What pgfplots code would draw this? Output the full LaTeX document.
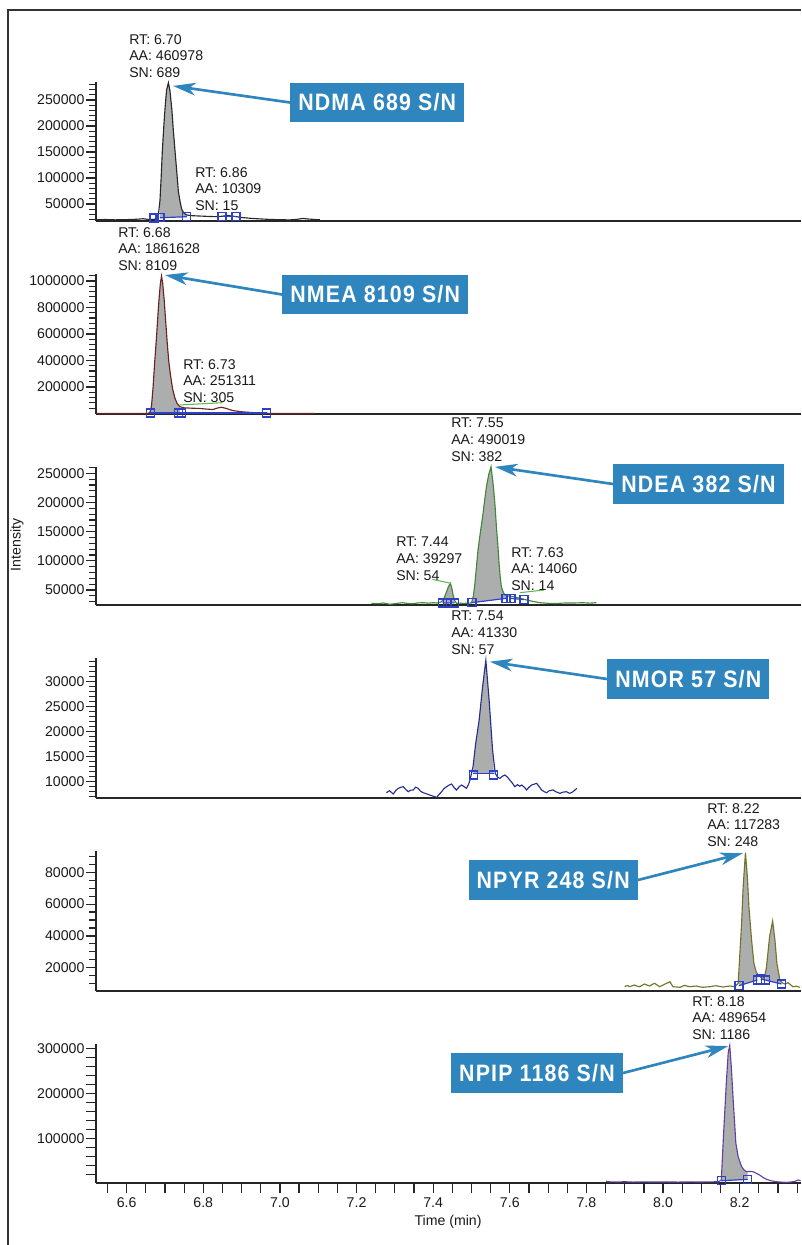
\documentclass[border=0pt]{standalone}
\usepackage{fontspec}
\setmainfont{Liberation Sans}
\newfontfamily\boxfont[FakeStretch=0.90,LetterSpace=5.0]{Liberation Sans}
\usepackage{pgfplots}
\pgfplotsset{compat=1.18}
\usetikzlibrary{arrows.meta}

\definecolor{boxblue}{RGB}{47,134,190}
\definecolor{pkfill}{RGB}{172,174,174}
\definecolor{intblue}{RGB}{45,65,200}
\definecolor{noisegreen}{RGB}{95,185,80}
\definecolor{trNDMA}{RGB}{40,40,40}
\definecolor{trNMEA}{RGB}{105,35,35}
\definecolor{trNDEA}{RGB}{65,135,55}
\definecolor{trNMOR}{RGB}{40,45,145}
\definecolor{trNPYR}{RGB}{115,115,45}
\definecolor{trNPIP}{RGB}{95,65,165}

\newcommand\lblfont{\fontsize{10.6}{12.5}\selectfont}
\newcommand\tickfont{\fontsize{10.6}{12}\selectfont}

\pgfplotsset{
  chrom/.style={
    anchor=south west, scale only axis, width=528.75pt,
    xmin=6.52, xmax=8.36,
    axis lines*=left,
    axis line style={line width=1.4pt, black!85},
    tick style={line width=0.9pt, black!85},
    tick align=outside,
    major tick length=7.5pt, minor tick length=5pt,
    xtick=\empty,
    scaled y ticks=false,
    yticklabel style={font=\tickfont, text=black!90, inner sep=1pt},
    /pgf/number format/fixed,
    /pgf/number format/1000 sep={},
    /pgf/number format/assume math mode=true,
    clip=false,
  },
  trace/.style={line width=0.85pt},
  peakfill/.style={draw=none, fill=pkfill},
  intline/.style={intblue, line width=0.9pt},
  intmarks/.style={scatter, only marks, point meta=0, mark=square, mark size=3pt,
    scatter/use mapped color={draw=intblue, fill=none},
    mark options={line width=1pt, solid}},
}

\begin{document}
\begin{tikzpicture}
\useasboundingbox (0pt,0pt) rectangle (600.75pt,-933.75pt);
\draw[line width=1.4pt, black!80] (6pt,-933.75pt) -- (6pt,-7.5pt) -- (600.75pt,-7.5pt);

% ---------------- NDMA ----------------
\begin{axis}[chrom, at={(72pt,-165.5pt)}, height=104.25pt,
  ymin=17900, ymax=285200,
  ytick={50000,100000,150000,200000,250000},
  minor ytick={20000,30000,...,280000}]
\addplot[peakfill] coordinates {(6.687,23500) (6.687,57000) (6.690,100000) (6.693,150000) (6.697,200000) (6.700,232000) (6.704,268000) (6.709,283000) (6.713,268000) (6.718,231000) (6.722,190000) (6.726,154000) (6.731,110000) (6.735,74000) (6.740,52000) (6.744,39000) (6.750,32000) (6.757,28800) (6.757,25500)};
\addplot[trace, trNDMA] coordinates {
(6.520,19600) (6.545,20100) (6.570,19500) (6.600,19900) (6.625,20600) (6.643,21600) (6.655,20400) (6.666,20100) (6.676,21000) (6.682,23500) (6.687,57000) (6.690,100000) (6.693,150000) (6.697,200000) (6.700,232000) (6.704,268000) (6.709,283000) (6.713,268000) (6.718,231000) (6.722,190000) (6.726,154000) (6.731,110000) (6.735,74000) (6.740,52000) (6.744,39000) (6.750,32000) (6.757,28800) (6.770,27500) (6.791,26800) (6.815,26000) (6.835,25600) (6.850,26500) (6.862,27800) (6.877,26700) (6.900,24000) (6.922,22500) (6.945,21400) (6.965,20600) (6.995,19800) (7.026,19400) (7.045,20500) (7.060,22200) (7.075,21000) (7.104,19600)};
\addplot[intline] coordinates {(6.687,23500) (6.757,25500)};
\addplot[intline] coordinates {(6.849,26500) (6.885,26500)};
\addplot[intmarks] coordinates {(6.671,23000) (6.687,23500) (6.757,25500) (6.849,26500) (6.885,26500)};
\coordinate (tip1) at (axis cs:6.721,277000);
\end{axis}

% ---------------- NMEA ----------------
\begin{axis}[chrom, at={(72pt,-310.5pt)}, height=105pt,
  ymin=-3800, ymax=1052800,
  ytick={200000,400000,600000,800000,1000000},
  minor ytick={40000,80000,...,1040000}]
\addplot[peakfill] coordinates {(6.662,3800) (6.662,8000) (6.665,60000) (6.669,200000) (6.673,380000) (6.678,580000) (6.682,760000) (6.685,881000) (6.688,980000) (6.691,1037000) (6.694,985000) (6.698,856000) (6.702,690000) (6.706,530000) (6.710,390000) (6.715,278000) (6.720,185000) (6.726,115000) (6.732,75000) (6.739,51000) (6.739,3800)};
\addplot[trace, trNMEA] coordinates {
(6.520,0) (6.560,300) (6.600,-200) (6.640,200) (6.655,500) (6.661,8000) (6.665,60000) (6.669,200000) (6.673,380000) (6.678,580000) (6.682,760000) (6.685,881000) (6.688,980000) (6.691,1037000) (6.694,985000) (6.698,856000) (6.702,690000) (6.706,530000) (6.710,390000) (6.715,278000) (6.720,185000) (6.726,115000) (6.732,75000) (6.739,51000) (6.750,43000) (6.770,40000) (6.791,38000) (6.810,33000) (6.825,30000) (6.838,42000) (6.848,47000) (6.860,38000) (6.877,22000) (6.900,13000) (6.930,6500) (6.965,1500) (7.000,300) (7.050,0) (7.091,200)};
\addplot[noisegreen, line width=0.8pt] coordinates {(6.739,64500) (6.850,81500)};
\addplot[intline] coordinates {(6.662,3500) (6.965,3500)};
\addplot[intmarks] coordinates {(6.662,4000) (6.736,4000) (6.744,4000) (6.965,4000)};
\coordinate (tip2) at (axis cs:6.700,1045000);
\end{axis}

% ---------------- NDEA ----------------
\begin{axis}[chrom, at={(72pt,-453.75pt)}, height=103.5pt,
  ymin=24300, ymax=260800,
  ytick={50000,100000,150000,200000,250000},
  minor ytick={30000,40000,...,260000}]
\addplot[peakfill] coordinates {(7.422,27800) (7.422,30000) (7.429,37000) (7.435,47100) (7.440,56000) (7.445,61500) (7.449,52000) (7.452,41400) (7.456,32000) (7.456,28000)};
\addplot[peakfill] coordinates {(7.500,28300) (7.505,40000) (7.509,61500) (7.517,118500) (7.523,148000) (7.529,175500) (7.534,202000) (7.539,226900) (7.545,248000) (7.551,261100) (7.555,240000) (7.558,221200) (7.562,190000) (7.565,158400) (7.569,125000) (7.572,95700) (7.575,72000) (7.578,55600) (7.583,46000) (7.587,41400) (7.590,41000) (7.590,35700)};
\addplot[trace, trNDEA] coordinates {
(7.239,27200) (7.255,26500) (7.270,27800) (7.287,25500) (7.305,27000) (7.320,28200) (7.331,27200) (7.345,26300) (7.360,27800) (7.374,28300) (7.388,27500) (7.400,28300) (7.412,27600) (7.422,30000) (7.429,37000) (7.435,47100) (7.440,56000) (7.445,61500) (7.449,52000) (7.452,41400) (7.456,32000) (7.461,27200) (7.470,27500) (7.478,27000) (7.490,27500) (7.500,27700) (7.505,40000) (7.509,61500) (7.517,118500) (7.523,148000) (7.529,175500) (7.534,202000) (7.539,226900) (7.545,248000) (7.551,261100) (7.555,240000) (7.558,221200) (7.562,190000) (7.565,158400) (7.569,125000) (7.572,95700) (7.575,72000) (7.578,55600) (7.583,46000) (7.587,41400) (7.598,39500) (7.609,38500) (7.625,36000) (7.644,32900) (7.660,30500) (7.678,28300) (7.700,27200) (7.722,26900) (7.745,27800) (7.765,27700) (7.790,28200) (7.810,27500) (7.826,28300)};
\addplot[noisegreen, line width=0.8pt] coordinates {(7.398,68200) (7.446,61500)};
\addplot[noisegreen, line width=0.8pt] coordinates {(7.626,45400) (7.689,50000)};
\addplot[intline] coordinates {(7.425,27800) (7.456,28000)};
\addplot[intline] coordinates {(7.501,28300) (7.590,35700)};
\addplot[intline] coordinates {(7.603,35700) (7.637,33500)};
\addplot[intmarks] coordinates {(7.425,27800) (7.438,27800) (7.456,28000) (7.501,28300) (7.590,35700) (7.603,35700) (7.637,33500)};
\coordinate (tip3) at (axis cs:7.561,261000);
\end{axis}

% ---------------- NMOR ----------------
\begin{axis}[chrom, at={(72pt,-598.5pt)}, height=105pt,
  ymin=6740, ymax=34740,
  ytick={10000,15000,20000,25000,30000},
  minor ytick={7000,8000,...,34000}]
\addplot[peakfill] coordinates {(7.505,11600) (7.505,13200) (7.511,17680) (7.520,22340) (7.529,29000) (7.5375,34300) (7.546,26340) (7.555,16340) (7.558,13500) (7.558,11600)};
\addplot[trace, trNMOR] coordinates {
(7.278,7800) (7.286,8200) (7.296,7540) (7.303,8300) (7.309,8670) (7.316,8900) (7.322,9000) (7.328,8500) (7.335,8000) (7.341,8300) (7.348,8340) (7.354,8900) (7.361,8670) (7.367,8100) (7.374,7800) (7.382,7600) (7.391,7340) (7.400,7100) (7.409,6870) (7.415,7400) (7.422,8000) (7.428,8600) (7.435,9000) (7.441,9300) (7.448,9540) (7.455,8800) (7.461,8340) (7.468,9000) (7.474,9340) (7.481,9000) (7.487,8670) (7.493,9600) (7.496,10340) (7.504,13000) (7.511,17680) (7.520,22340) (7.529,29000) (7.5375,34300) (7.546,26340) (7.555,16340) (7.562,11680) (7.568,10900) (7.574,10680) (7.581,11100) (7.587,11340) (7.594,10900) (7.600,10340) (7.607,9700) (7.613,9000) (7.620,9400) (7.626,9100) (7.631,9340) (7.638,8900) (7.644,8340) (7.650,8900) (7.657,9340) (7.663,9500) (7.670,9680) (7.676,9100) (7.683,8340) (7.690,8000) (7.696,7800) (7.703,8200) (7.713,8340) (7.720,8000) (7.731,7670) (7.738,7900) (7.748,8000) (7.755,7700) (7.761,7800) (7.768,8200) (7.775,8670)};
\addplot[intline] coordinates {(7.505,11600) (7.558,11600)};
\addplot[intmarks] coordinates {(7.505,11340) (7.558,11340)};
\coordinate (tip4) at (axis cs:7.548,34000);
\end{axis}

% ---------------- NPYR ----------------
\begin{axis}[chrom, at={(72pt,-743.25pt)}, height=105pt,
  ymin=5350, ymax=93400,
  ytick={20000,40000,60000,80000},
  minor ytick={10000,15000,...,90000}]
\addplot[peakfill] coordinates {(8.198,8680) (8.198,14000) (8.200,26900) (8.205,47900) (8.209,70900) (8.215,92300) (8.220,77200) (8.224,58400) (8.231,37400) (8.237,22800) (8.243,17500) (8.246,16000) (8.246,12260)};
\addplot[peakfill] coordinates {(8.267,12260) (8.267,16500) (8.270,20600) (8.278,39500) (8.286,49400) (8.292,37400) (8.297,22800) (8.305,12300) (8.309,11200) (8.309,9750)};
\addplot[trace, trNPYR] coordinates {
(7.900,8050) (7.903,8490) (7.908,8800) (7.913,8050) (7.919,8600) (7.926,9120) (7.932,8400) (7.939,8050) (7.945,8900) (7.952,9750) (7.958,9100) (7.965,8490) (7.971,9400) (7.978,10190) (7.984,9200) (7.991,8050) (7.998,8900) (8.005,9750) (8.011,10400) (8.018,11200) (8.022,9500) (8.026,8050) (8.035,7900) (8.044,7670) (8.050,8300) (8.057,8930) (8.063,8400) (8.070,8050) (8.078,8300) (8.087,8490) (8.095,8000) (8.104,7670) (8.113,7900) (8.122,8050) (8.130,8400) (8.139,8680) (8.148,8200) (8.157,7860) (8.165,8200) (8.174,8490) (8.181,8300) (8.187,8050) (8.196,10190) (8.200,26900) (8.205,47900) (8.209,70900) (8.215,92300) (8.220,77200) (8.224,58400) (8.231,37400) (8.237,22800) (8.243,17500) (8.248,15400) (8.255,14000) (8.261,13300) (8.266,15000) (8.270,20600) (8.278,39500) (8.286,49400) (8.292,37400) (8.297,22800) (8.305,12300) (8.311,10500) (8.318,9750) (8.326,10560) (8.332,9400) (8.339,8050) (8.348,8400) (8.357,7670)};
\addplot[intline] coordinates {(8.198,8680) (8.246,12260)};
\addplot[intline] coordinates {(8.255,12800) (8.267,12260) (8.309,9750)};
\addplot[intmarks] coordinates {(8.198,8680) (8.246,12260) (8.255,12800) (8.267,12260) (8.309,9750)};
\coordinate (tip5) at (axis cs:8.208,92000);
\end{axis}

% ---------------- NPIP ----------------
\begin{axis}[chrom, at={(72pt,-887.5pt)}, height=104.5pt,
  ymin=0, ymax=309600,
  ytick={100000,200000,300000},
  minor ytick={20000,40000,...,300000},
  xtick={6.6,6.8,7.0,7.2,7.4,7.6,7.8,8.0,8.2},
  minor xtick={6.55,6.65,6.7,6.75,6.85,6.9,6.95,7.05,7.1,7.15,7.25,7.3,7.35,7.45,7.5,7.55,7.65,7.7,7.75,7.85,7.9,7.95,8.05,8.1,8.15,8.25,8.3,8.35},
  minor tick length=7.5pt,
  xticklabel={\pgfmathprintnumber[fixed,fixed zerofill,precision=1,assume math mode=true]{\tick}},
  xticklabel style={font=\tickfont, text=black!90}]
\addplot[peakfill] coordinates {(8.152,5800) (8.152,7400) (8.158,111000) (8.165,222000) (8.170,290000) (8.174,306000) (8.178,260000) (8.183,185000) (8.187,130000) (8.190,89000) (8.196,59000) (8.205,37000) (8.212,29000) (8.218,26000) (8.221,26200) (8.221,8900)};
\addplot[trace, trNPIP] coordinates {
(7.851,5000) (7.856,3500) (7.880,3000) (7.900,3600) (7.922,2800) (7.950,3300) (7.980,2900) (8.009,3200) (8.040,2800) (8.070,3300) (8.096,3000) (8.120,3300) (8.144,3500) (8.152,7400) (8.158,111000) (8.165,222000) (8.170,290000) (8.174,306000) (8.178,260000) (8.183,185000) (8.187,130000) (8.190,89000) (8.196,59000) (8.205,37000) (8.212,29000) (8.218,26000) (8.227,26500) (8.235,25800) (8.244,22000) (8.252,18500) (8.261,13000) (8.270,8900) (8.283,5500) (8.296,3600) (8.310,2700) (8.322,2200) (8.335,3000) (8.345,4500) (8.352,7400) (8.359,6000)};
\addplot[intline] coordinates {(8.152,5800) (8.221,8900)};
\addplot[intmarks] coordinates {(8.152,5800) (8.221,8900)};
\coordinate (tip6) at (axis cs:8.170,305000);
\end{axis}

% ---------------- annotations ----------------
\begin{scope}[x=0.75pt, y=-0.75pt,
  lbl/.style={anchor=north west, align=left, inner sep=0pt, font=\lblfont, text=black!90},
  snbox/.style={fill=boxblue, text=white, font=\boxfont\bfseries\fontsize{17.8}{18}\selectfont,
    minimum height=29.5pt, inner xsep=6pt, inner ysep=0pt},
  arr/.style={boxblue, line width=2pt, -{Stealth[length=17pt,width=9.5pt,inset=5pt]}}]
\node[lbl] at (129,34) {RT: 6.70\\AA: 460978\\SN: 689};
\node[lbl] at (195,167) {RT: 6.86\\AA: 10309\\SN: 15};
\node[lbl] at (118,227) {RT: 6.68\\AA: 1861628\\SN: 8109};
\node[lbl] at (183,359) {RT: 6.73\\AA: 251311\\SN: 305};
\node[lbl] at (451,418) {RT: 7.55\\AA: 490019\\SN: 382};
\node[lbl] at (396,537) {RT: 7.44\\AA: 39297\\SN: 54};
\node[lbl] at (511,547) {RT: 7.63\\AA: 14060\\SN: 14};
\node[lbl] at (451,611) {RT: 7.54\\AA: 41330\\SN: 57};
\node[lbl] at (707,803) {RT: 8.22\\AA: 117283\\SN: 248};
\node[lbl] at (692,996) {RT: 8.18\\AA: 489654\\SN: 1186};

\draw[arr] (290,102.5) -- (tip1);
\draw[arr] (282,294.5) -- (tip2);
\draw[arr] (613,484) -- (tip3);
\draw[arr] (607,679) -- (tip4);
\draw[arr] (638,880) -- (tip5);
\draw[arr] (623,1073) -- (tip6);

\node[snbox, anchor=west] at (290,102.5) {NDMA 689 S/N};
\node[snbox, anchor=west] at (282,294.5) {NMEA 8109 S/N};
\node[snbox, anchor=west] at (613,484) {NDEA 382 S/N};
\node[snbox, anchor=west] at (607,679) {NMOR 57 S/N};
\node[snbox, anchor=east] at (638,880) {NPYR 248 S/N};
\node[snbox, anchor=east] at (623,1073) {NPIP 1186 S/N};

\node[rotate=90, font=\lblfont, text=black!90] at (17,545) {Intensity};
\node[font=\lblfont, text=black!90] at (448,1222) {Time (min)};
\end{scope}
\end{tikzpicture}
\end{document}
